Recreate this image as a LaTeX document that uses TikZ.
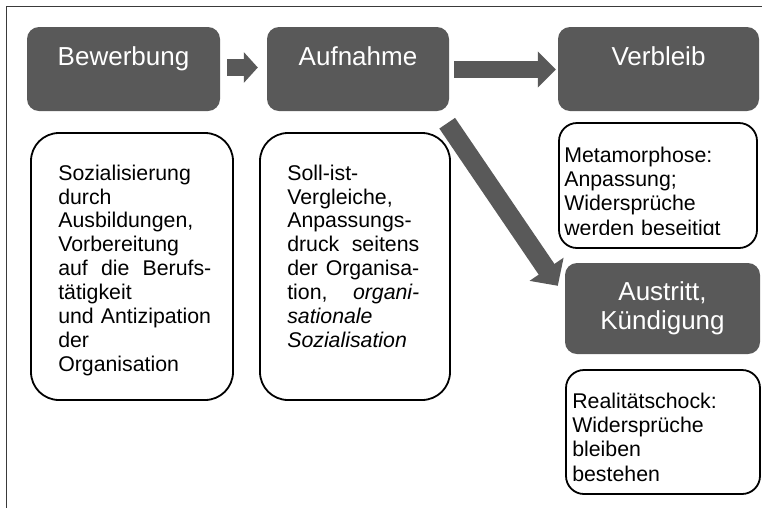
\documentclass[tikz,border=0pt]{standalone}
\usepackage{fontspec}
\setmainfont{Liberation Sans}
\usetikzlibrary{calc,arrows.meta}

\definecolor{phasegray}{HTML}{595959}
\definecolor{framegray}{HTML}{3A3A3A}

\newcommand{\spreadline}[2]{\leavevmode\hbox to #1{#2}}

\begin{document}
\begin{tikzpicture}[x=1pt, y=-1pt,
    phase/.style={rectangle, rounded corners=12pt, fill=phasegray, text=white, inner xsep=0pt, inner ysep=0pt, font=\fontsize{26}{29}\selectfont},
    toptitle/.style={text height=38pt, text depth=46pt},
    note/.style={rectangle, draw=black, line width=1.8pt, fill=white, rounded corners=28pt},
    smallnote/.style={note, rounded corners=18pt},
    notetext/.style={anchor=base west, inner sep=0pt, align=left, font=\fontsize{21.3}{23.9}\selectfont},
    flow/.style={draw=phasegray, line width=17pt, -{Triangle[length=18pt, width=35pt]}}
]
  \useasboundingbox (0,0) rectangle (762,507);
  \clip (0,0) rectangle (762,507);
  % Frame
  \draw[framegray, line width=1.8pt] (6.5,6.5) rectangle (790,530);
  % Phase boxes
  \node[phase, toptitle, minimum width=193pt] (bew) at (123.5,69) {Bewerbung};
  \node[phase, toptitle, minimum width=182pt] (auf) at (358,69) {Aufnahme};
  \node[phase, toptitle, minimum width=201pt] (ver) at (658.5,69) {Verbleib};
  \node[phase, align=center, minimum width=195pt, minimum height=91pt] (aus) at (662.5,308.5) {Austritt,\\Kündigung};
  % Note boxes
  \node[note, minimum width=202pt, minimum height=267pt] (vorbox) at (132,266.5) {};
  \node[note, minimum width=190pt, minimum height=267pt] (aufbox) at (355,266.5) {};
  \node[smallnote, minimum width=198pt, minimum height=125pt] (verbox) at (658,185.5) {};
  \node[smallnote, minimum width=194pt, minimum height=124pt] (ausbox) at (663,432) {};
  % Note texts
  \node[notetext, text width=153pt] (vortext) at ($(vorbox.north west)+(28,48)$)
    {Sozialisierung\\durch\\Ausbildungen,\\Vorbereitung\\\spreadline{153pt}{auf\hfill die\hfill Berufs-}\\tätigkeit\\und Antizipation\\der\\Organisation};
  \node[notetext, text width=132pt] (auftext) at ($(aufbox.north west)+(28,48)$)
    {Soll-ist-\\Vergleiche,\\Anpassungs-\\\spreadline{132pt}{druck\hfill seitens}\\\spreadline{132pt}{der\hfill Organisa-}\\\spreadline{132pt}{tion,\hfill \textit{organi-}}\\\textit{sationale}\\\textit{Sozialisation}};
  \begin{scope}
    \clip (verbox.north west) rectangle ($(verbox.south east)+(0,-14.5)$);
    \node[notetext, text width=185pt, font=\fontsize{21.3}{24.3}\selectfont] (vertext) at ($(verbox.north west)+(6,40)$)
      {Metamorphose:\\Anpassung;\\Widersprüche\\werden beseitigt};
  \end{scope}
  \node[notetext, text width=180pt, font=\fontsize{21.3}{24.3}\selectfont] (austext) at ($(ausbox.north west)+(7,39)$)
    {Realitätschock:\\Widersprüche\\bleiben\\bestehen};
  % Arrows
  \draw[flow, -{Triangle[length=14pt, width=30pt]}] ($(bew.east)+(7,-1.5)$) -- ($(auf.west)+(-9,-1.5)$);
  \draw[flow] ($(auf.east)+(5,0.5)$) -- ($(ver.west)+(-2,0.5)$);
  \draw[flow, line width=19pt, -{Triangle[length=20pt, width=40pt]}] ($(auf.south east)+(-2,12)$) -- ($(aus.north west)+(-7,23)$);
\end{tikzpicture}
\end{document}
